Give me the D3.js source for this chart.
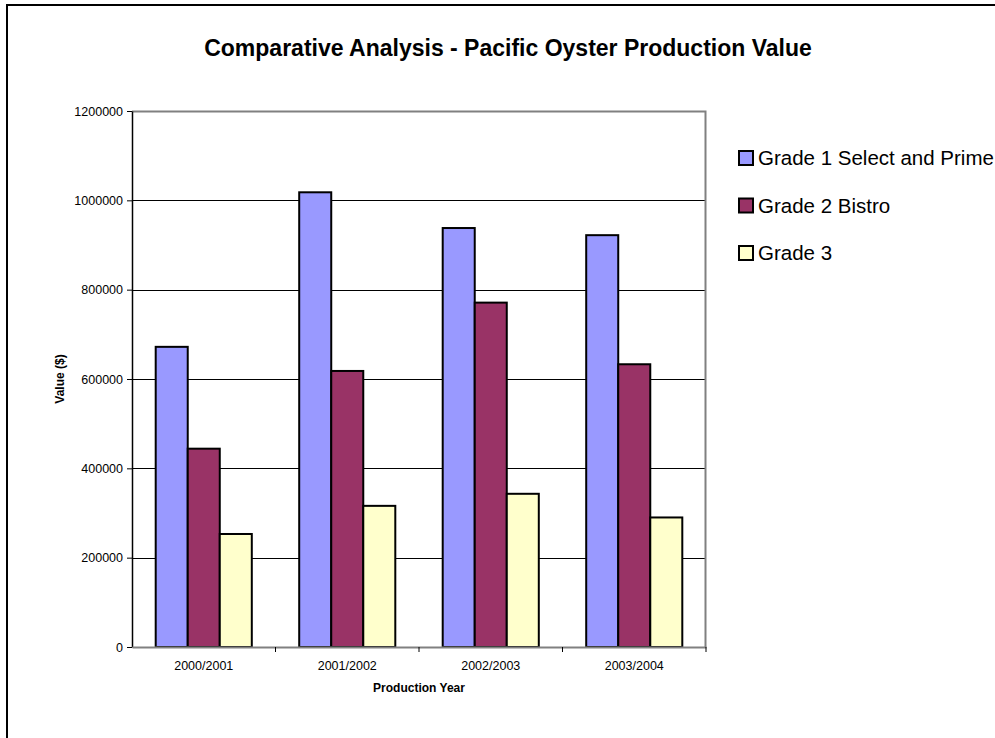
<!DOCTYPE html>
<html>
<head>
<meta charset="utf-8">
<script src="https://cdn.jsdelivr.net/npm/d3@7"></script>
<style>
  body { margin: 0; background: #fff; }
  text { font-family: "Liberation Sans", Arial, sans-serif; fill: #000; }
</style>
</head>
<body>
<div id="chart"></div>
<script>
// Data
const years = ["2000/2001", "2001/2002", "2002/2003", "2003/2004"];
const seriesNames = ["Grade 1 Select and Prime", "Grade 2 Bistro", "Grade 3"];
const grade1 = [672000, 1018000, 938000, 922000];
const grade2 = [444000, 618000, 771000, 633000];
const grade3 = [253000, 316000, 343000, 290000];
const yTicks = [0, 200000, 400000, 600000, 800000, 1000000, 1200000];
const colors = ["#9999FF", "#993366", "#FFFFCC"];

const W = 995, H = 738;
// plot area
const margin = { top: 111, right: 289, bottom: 91, left: 132 };
const width = W - margin.left - margin.right;
const height = H - margin.top - margin.bottom;

const svgRoot = d3.select("#chart")
    .append("svg")
    .attr("width", W)
    .attr("height", H);

// outer chart frame (runs off the right and bottom)
svgRoot.append("rect")
    .attr("x", 7)
    .attr("y", 5)
    .attr("width", W + 20)
    .attr("height", H + 20)
    .attr("fill", "none")
    .attr("stroke", "#000")
    .attr("stroke-width", 2);

const svg = svgRoot.append("g")
    .attr("transform", "translate(" + margin.left + "," + margin.top + ")");

// Title
svgRoot.append("text")
    .attr("x", 508)
    .attr("y", 56)
    .attr("text-anchor", "middle")
    .attr("font-size", "23px")
    .attr("font-weight", "bold")
    .text("Comparative Analysis - Pacific Oyster Production Value");

// Scales
const x = d3.scaleBand()
    .domain(years)
    .range([0, width])
    .paddingInner(0)
    .paddingOuter(0);

const xsub = d3.scaleBand()
    .domain(seriesNames)
    .range([0, x.bandwidth()])
    .paddingOuter(0.74)
    .paddingInner(0);

const y = d3.scaleLinear()
    .domain([0, 1200000])
    .range([height, 0]);

// Gridlines
svg.append("g")
    .attr("class", "grid")
    .selectAll("line")
    .data(yTicks.slice(1, -1))
    .enter()
    .append("line")
    .attr("x1", 0)
    .attr("x2", width)
    .attr("y1", d => Math.round(y(d)) + 0.5)
    .attr("y2", d => Math.round(y(d)) + 0.5)
    .attr("stroke", "#000")
    .attr("stroke-width", 1);

// Plot area border (grey top and right)
svg.append("path")
    .attr("d", `M0,0.5H${width - 0.5}V${height}`)
    .attr("fill", "none")
    .attr("stroke", "#808080")
    .attr("stroke-width", 2);

// Bars
const seriesValues = [grade1, grade2, grade3];
const barData = [];
years.forEach((yr, i) => {
    seriesNames.forEach((s, j) => {
        barData.push({ year: yr, key: s, value: seriesValues[j][i], idx: j });
    });
});

svg.selectAll("rect.bar")
    .data(barData)
    .enter()
    .append("rect")
    .attr("class", "bar")
    .attr("x", d => x(d.year) + xsub(d.key))
    .attr("y", d => y(d.value))
    .attr("width", xsub.bandwidth())
    .attr("height", d => height - y(d.value))
    .attr("fill", d => colors[d.idx])
    .attr("stroke", "#000")
    .attr("stroke-width", 2);

// Y axis
const yAxis = svg.append("g")
    .attr("class", "y_axis")
    .call(d3.axisLeft(y).tickValues(yTicks).tickSize(5).tickSizeOuter(0).tickFormat(d3.format("d")));
yAxis.select(".domain").attr("stroke", "#000").attr("stroke-width", 1.5);
yAxis.selectAll(".tick line").attr("stroke", "#000");
yAxis.selectAll(".tick text")
    .attr("font-size", "12.5px")
    .attr("font-family", "Liberation Sans, Arial, sans-serif")
    .attr("x", -9);

// X axis
const xAxis = svg.append("g")
    .attr("class", "x_axis")
    .attr("transform", "translate(0," + height + ")")
    .call(d3.axisBottom(x).tickSize(0).tickSizeOuter(0));
xAxis.select(".domain").attr("stroke", "#808080").attr("stroke-width", 2);
xAxis.selectAll(".tick text")
    .attr("font-size", "12.5px")
    .attr("font-family", "Liberation Sans, Arial, sans-serif")
    .attr("dy", "0")
    .attr("y", 23);

// category separator ticks
xAxis.selectAll("line.sep")
    .data(years.slice(1).concat(["end"]))
    .enter()
    .append("line")
    .attr("class", "sep")
    .attr("x1", d => d === "end" ? width : x(d))
    .attr("x2", d => d === "end" ? width : x(d))
    .attr("y1", 0)
    .attr("y2", 5)
    .attr("stroke", "#000");

// Axis labels
svg.append("text")
    .attr("x", width / 2)
    .attr("y", height + 45)
    .attr("text-anchor", "middle")
    .attr("font-size", "12px")
    .attr("font-weight", "bold")
    .text("Production Year");

svg.append("text")
    .attr("transform", "rotate(-90)")
    .attr("x", -height / 2)
    .attr("y", -68)
    .attr("text-anchor", "middle")
    .attr("font-size", "12px")
    .attr("font-weight", "bold")
    .text("Value ($)");

// Legend
const legend = svgRoot.append("g")
    .attr("class", "legend")
    .attr("transform", "translate(739,158)");

legend.selectAll("rect")
    .data(seriesNames)
    .enter()
    .append("rect")
    .attr("x", 0)
    .attr("y", (d, i) => i * 47.5 - 7)
    .attr("width", 14)
    .attr("height", 14)
    .attr("fill", (d, i) => colors[i])
    .attr("stroke", "#000")
    .attr("stroke-width", 2);

legend.selectAll("text")
    .data(seriesNames)
    .enter()
    .append("text")
    .attr("x", 19)
    .attr("y", (d, i) => i * 47.5 + 7)
    .attr("font-size", "20.5px")
    .text(d => d);
</script>
</body>
</html>
